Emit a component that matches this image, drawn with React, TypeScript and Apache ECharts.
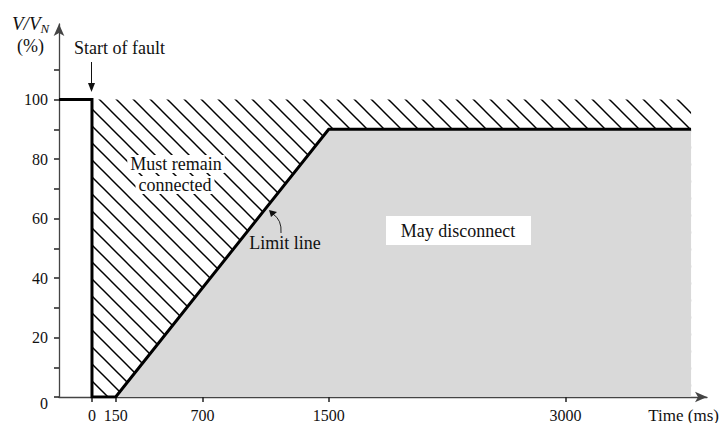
import React, { useEffect, useRef } from "react";
import * as echarts from "echarts";

// ---- data ----
const xTickValues = [0, 150, 700, 1500, 3000];
const yTickValues = [0, 10, 20, 30, 40, 50, 60, 70, 80, 90, 100, 110];
const yLabelValues = [0, 20, 40, 60, 80, 100];
// limit line (time ms, V/VN %)
const limitX = [-209, 0, 0, 150, 1500, 3796];
const limitY = [100, 100, 0, 0, 90, 90];
// "may disconnect" region boundary
const grayX = [150, 1500, 3796];
const grayY = [0, 90, 90];
// "must remain connected" region top
const hatchX = [0, 3796];
const hatchY = [100, 100];

const X_MIN = -209;
const X_MAX = 3897;
const Y_MAX = 125.4;

const FONT = '"Liberation Serif", "Times New Roman", serif';

function makeHatch() {
  const s = 17;
  const c = document.createElement("canvas");
  c.width = s;
  c.height = s;
  const ctx = c.getContext("2d")!;
  ctx.strokeStyle = "#000";
  ctx.lineWidth = 1.5;
  for (const k of [-1, 0, 1]) {
    ctx.beginPath();
    ctx.moveTo(-s, -s + k * s);
    ctx.lineTo(2 * s, 2 * s + k * s);
    ctx.stroke();
  }
  return { image: c, repeat: "repeat", imageWidth: s, imageHeight: s };
}

const zip = (xs: number[], ys: number[]) => xs.map((x, i) => [x, ys[i]]);

export default function App() {
  const ref = useRef<HTMLDivElement>(null);
  useEffect(() => {
    const chart = echarts.init(ref.current!, null, { renderer: "svg" });
    const axisColor = "#444";
    const txt = (x: number, y: number, text: string, align = "center", extra: any = {}) => ({
      type: "text",
      x,
      y,
      z: 100,
      style: { text, font: `18px ${FONT}`, fill: "#111", textAlign: align, textVerticalAlign: "middle", ...extra },
    });
    chart.setOption({
      animation: false,
      grid: { left: 59, right: 21, top: 24, bottom: 26 },
      xAxis: {
        type: "value",
        min: X_MIN,
        max: X_MAX,
        splitLine: { show: false },
        axisLine: {
          onZero: false,
          symbol: ["none", "arrow"],
          symbolSize: [8, 12],
          lineStyle: { color: axisColor, width: 1.3 },
        },
        axisTick: { show: true, length: 5, customValues: xTickValues, lineStyle: { color: "#222", width: 1.5 } },
        axisLabel: {
          customValues: xTickValues,
          margin: 10,
          fontFamily: FONT,
          fontSize: 16,
          color: "#111",
          formatter: (v: number) => String(v),
        },
      },
      yAxis: {
        type: "value",
        min: 0,
        max: Y_MAX,
        splitLine: { show: false },
        axisLine: {
          show: true,
          onZero: false,
          symbol: ["none", "arrow"],
          symbolSize: [8, 12],
          lineStyle: { color: axisColor, width: 1.3 },
        },
        axisTick: { show: true, length: 5, customValues: yTickValues, lineStyle: { color: "#222", width: 1.5 } },
        axisLabel: {
          customValues: yLabelValues,
          margin: 11,
          fontFamily: FONT,
          fontSize: 16,
          color: "#111",
          formatter: (v: number) => (v === 0 ? "{z|0}" : String(v)),
          rich: { z: { fontFamily: FONT, fontSize: 16, color: "#111", padding: [12, 0, 0, 0] } },
        },
      },
      series: [
        {
          type: "line",
          data: zip(hatchX, hatchY),
          symbol: "none",
          lineStyle: { width: 0 },
          areaStyle: { color: makeHatch(), opacity: 1 },
          z: 1,
          silent: true,
        },
        {
          type: "line",
          data: zip(grayX, grayY),
          symbol: "none",
          lineStyle: { width: 0 },
          areaStyle: { color: "#d9d9d9", opacity: 1 },
          z: 2,
          silent: true,
        },
        {
          type: "line",
          data: zip(limitX, limitY),
          symbol: "none",
          lineStyle: { color: "#000", width: 3, join: "miter" },
          z: 5,
          silent: true,
        },
      ],
      graphic: {
        elements: [
          {
            type: "text",
            x: 12,
            y: 23,
            z: 100,
            style: {
              text: "{i|V/V}{s|N}",
              textVerticalAlign: "middle",
              rich: {
                i: { fontFamily: FONT, fontStyle: "italic", fontSize: 19, fill: "#111" },
                s: { fontFamily: FONT, fontStyle: "italic", fontSize: 13, fill: "#111", verticalAlign: "bottom", padding: [10, 0, 0, 0] },
              },
            },
          },
          {
            type: "text",
            x: 17,
            y: 46,
            z: 100,
            style: { text: "(%)", font: `18px ${FONT}`, fill: "#111", textVerticalAlign: "middle" },
          },
          txt(119.5, 48, "Start of fault"),
          { type: "line", z: 100, shape: { x1: 91.5, y1: 62, x2: 91.5, y2: 85 }, style: { stroke: "#111", lineWidth: 1 } },
          { type: "polygon", z: 100, shape: { points: [[88, 83], [95, 83], [91.5, 92]] }, style: { fill: "#111" } },
          txt(176, 164, "Must remain", "center", { backgroundColor: "#fff", padding: [0, 3, 0, 3] }),
          txt(175, 185, "connected", "center", { backgroundColor: "#fff", padding: [0, 3, 0, 3] }),
          txt(285, 243, "Limit line"),
          {
            type: "bezierCurve",
            z: 100,
            shape: { x1: 281, y1: 233, cpx1: 282, cpy1: 220, x2: 273, y2: 214 },
            style: { stroke: "#222", lineWidth: 1, fill: "none" },
          },
          { type: "polygon", z: 100, shape: { points: [[269, 210], [277, 212], [271, 217]] }, style: { fill: "#111" } },
          { type: "rect", z: 99, shape: { x: 386, y: 216, width: 145, height: 29 }, style: { fill: "#fff" } },
          txt(458, 231, "May disconnect"),
          txt(719, 415, "Time (ms)", "right", { font: `17px ${FONT}` }),
        ],
      },
    });
    return () => chart.dispose();
  }, []);
  return <div ref={ref} style={{ width: 728, height: 423, position: "absolute", left: 0, top: 0 }} />;
}
